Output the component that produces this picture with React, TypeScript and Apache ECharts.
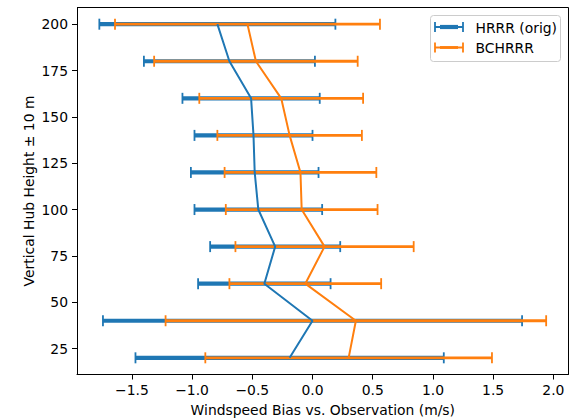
import React, { useEffect, useRef } from "react";
import * as echarts from "echarts";

const heights = [20, 40, 60, 80, 100, 120, 140, 160, 180, 200];
const hrrrBias = [-0.19, 0.0, -0.4, -0.31, -0.45, -0.48, -0.49, -0.51, -0.69, -0.79];
const hrrrErr = [1.28, 1.74, 0.55, 0.54, 0.53, 0.53, 0.49, 0.57, 0.71, 0.98];
const bcBias = [0.3, 0.36, -0.06, 0.1, -0.09, -0.1, -0.19, -0.26, -0.47, -0.54];
const bcErr = [1.19, 1.58, 0.63, 0.74, 0.63, 0.63, 0.6, 0.68, 0.845, 1.1];
const xTicks = [-1.5, -1.0, -0.5, 0.0, 0.5, 1.0, 1.5, 2.0];
const yTicks = [25, 50, 75, 100, 125, 150, 175, 200];
const seriesNames = ["HRRR (orig)", "BCHRRR"];
const xTitle = "Windspeed Bias vs. Observation (m/s)";
const yTitle = "Vertical Hub Height \u00b1 10 m";

const BLUE = "#1f77b4";
const ORANGE = "#ff7f0e";
const FONT = "DejaVu Sans";
const FS = 13.9;

function App() {
  const ref = useRef<HTMLDivElement>(null);
  useEffect(() => {
    if (!ref.current) return;
    const chart = echarts.init(ref.current, undefined, { renderer: "svg" });

    const lows = [
      ...hrrrBias.map((b, i) => b - hrrrErr[i]),
      ...bcBias.map((b, i) => b - bcErr[i]),
    ];
    const highs = [
      ...hrrrBias.map((b, i) => b + hrrrErr[i]),
      ...bcBias.map((b, i) => b + bcErr[i]),
    ];
    const xlo = Math.min(...lows);
    const xhi = Math.max(...highs);
    const xpad = (xhi - xlo) * 0.05;
    const ylo = Math.min(...heights);
    const yhi = Math.max(...heights);
    const ypad = (yhi - ylo) * 0.05;

    const fmt = (v: number, d: number) => v.toFixed(d).replace("-", "\u2212");

    const errSeries = (name: string, bias: number[], err: number[], color: string, w: number) => ({
      type: "custom",
      name,
      z: 2,
      data: bias.map((b, i) => [b, heights[i], err[i]]),
      encode: { x: 0, y: 1 },
      renderItem: (params: any, api: any) => {
        const c = api.value(0);
        const y = api.value(1);
        const e = api.value(2);
        const p1 = api.coord([c - e, y]);
        const p2 = api.coord([c + e, y]);
        const ch = 5.5;
        return {
          type: "group",
          children: [
            { type: "line", shape: { x1: p1[0], y1: p1[1], x2: p2[0], y2: p2[1] }, style: { stroke: color, lineWidth: w } },
            { type: "line", shape: { x1: p1[0], y1: p1[1] - ch, x2: p1[0], y2: p1[1] + ch }, style: { stroke: color, lineWidth: 1.8 } },
            { type: "line", shape: { x1: p2[0], y1: p2[1] - ch, x2: p2[0], y2: p2[1] + ch }, style: { stroke: color, lineWidth: 1.8 } },
          ],
        };
      },
    });

    const lineSeries = (name: string, bias: number[], color: string) => ({
      type: "line",
      name,
      z: 3,
      data: bias.map((b, i) => [b, heights[i]]),
      symbol: "none",
      lineStyle: { color, width: 2 },
    });

    const legendIcon = (y: number, color: string, w: number) => [
      { type: "line", shape: { x1: 435, y1: y, x2: 463, y2: y }, style: { stroke: color, lineWidth: 2 } },
      { type: "line", shape: { x1: 440, y1: y, x2: 458, y2: y }, style: { stroke: color, lineWidth: w } },
      { type: "line", shape: { x1: 435, y1: y - 5, x2: 435, y2: y + 5 }, style: { stroke: color, lineWidth: 1.8 } },
      { type: "line", shape: { x1: 463, y1: y - 5, x2: 463, y2: y + 5 }, style: { stroke: color, lineWidth: 1.8 } },
    ];

    const option: any = {
      animation: false,
      backgroundColor: "#ffffff",
      grid: { left: 77, right: 7.5, top: 7.5, bottom: 45.5, containLabel: false },
      xAxis: {
        type: "value",
        min: xlo - xpad,
        max: xhi + xpad,
        axisLine: { show: true, onZero: false, lineStyle: { color: "#000", width: 1 } },
        axisTick: { show: true, length: 5, customValues: xTicks, lineStyle: { color: "#000", width: 1 } },
        axisLabel: {
          customValues: xTicks,
          formatter: (v: number) => fmt(v, 1),
          color: "#000",
          fontFamily: FONT,
          fontSize: FS,
          margin: 8,
        },
        splitLine: { show: false },
      },
      yAxis: {
        type: "value",
        min: ylo - ypad,
        max: yhi + ypad,
        axisLine: { show: true, onZero: false, lineStyle: { color: "#000", width: 1 } },
        axisTick: { show: true, length: 5, customValues: yTicks, lineStyle: { color: "#000", width: 1 } },
        axisLabel: {
          customValues: yTicks,
          formatter: (v: number) => fmt(v, 0),
          color: "#000",
          fontFamily: FONT,
          fontSize: FS,
          margin: 9,
        },
        splitLine: { show: false },
      },
      series: [
        errSeries(seriesNames[0], hrrrBias, hrrrErr, BLUE, 4.2),
        errSeries(seriesNames[1], bcBias, bcErr, ORANGE, 2.8),
        lineSeries(seriesNames[0], hrrrBias, BLUE),
        lineSeries(seriesNames[1], bcBias, ORANGE),
      ],
      graphic: [
        // top/right spines
        { type: "line", z: 10, shape: { x1: 77, y1: 7.5, x2: 568.5, y2: 7.5 }, style: { stroke: "#000", lineWidth: 1 } },
        { type: "line", z: 10, shape: { x1: 568.5, y1: 7.5, x2: 568.5, y2: 374.5 }, style: { stroke: "#000", lineWidth: 1 } },
        {
          type: "rect",
          z: 20,
          shape: { x: 430.5, y: 15.5, width: 130, height: 46, r: 3 },
          style: { fill: "rgba(255,255,255,0.8)", stroke: "#cccccc", lineWidth: 1 },
        },
        ...legendIcon(27, BLUE, 4.2).map((g) => ({ ...g, z: 21 })),
        ...legendIcon(47.5, ORANGE, 2.8).map((g) => ({ ...g, z: 21 })),
        {
          type: "text", z: 21, x: 475.5, y: 28,
          style: { text: seriesNames[0], fill: "#000", font: `${FS}px ${FONT}`, verticalAlign: "middle", align: "left" },
        },
        {
          type: "text", z: 21, x: 475.5, y: 48,
          style: { text: seriesNames[1], fill: "#000", font: `${FS}px ${FONT}`, verticalAlign: "middle", align: "left" },
        },
        {
          type: "text", x: 322.8, y: 410,
          style: { text: xTitle, fill: "#000", font: `${FS}px ${FONT}`, verticalAlign: "middle", align: "center" },
        },
        {
          type: "text", x: 28.5, y: 191, rotation: Math.PI / 2,
          style: { text: yTitle, fill: "#000", font: `${FS}px ${FONT}`, verticalAlign: "middle", align: "center" },
        },
      ],
    };
    chart.setOption(option);
    return () => chart.dispose();
  }, []);
  return <div ref={ref} style={{ width: 576, height: 420, position: "absolute", left: 0, top: 0 }} />;
}

export default App;
